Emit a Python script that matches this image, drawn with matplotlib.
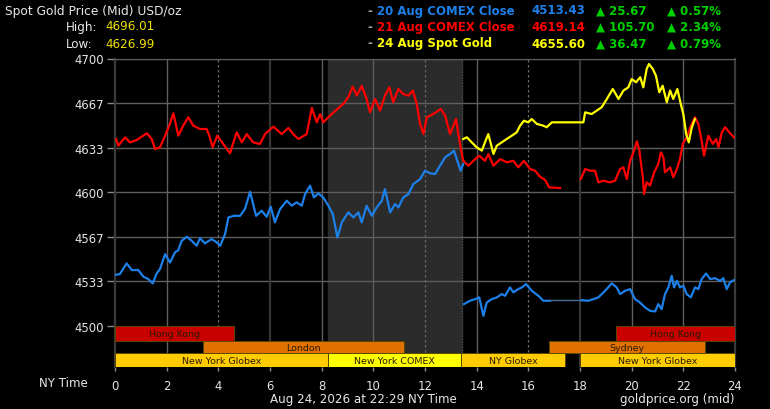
import numpy as np
import matplotlib
matplotlib.use("Agg")
import matplotlib.pyplot as plt
from matplotlib.patches import Rectangle

plt.rcParams['font.family'] = ['DejaVu Sans']

# ---- data (hours NY time, price USD/oz) ----
red_h1 = [0.04, 0.13, 0.39, 0.58, 0.84, 1.23, 1.42, 1.55, 1.74, 1.94, 2.10, 2.26, 2.45, 2.64, 2.84,
          3.03, 3.29, 3.55, 3.65, 3.78, 3.96, 4.19, 4.45, 4.71, 4.91, 5.10, 5.35, 5.61, 5.81, 6.13,
          6.45, 6.71, 6.90, 7.10, 7.42, 7.62, 7.81, 7.94, 8.06, 8.32, 8.68, 8.84, 9.03, 9.20, 9.36,
          9.55, 9.74, 9.87, 10.07, 10.26, 10.45, 10.62, 10.77, 10.97, 11.16, 11.36, 11.53, 11.68,
          11.81, 11.94, 12.07, 12.32, 12.61, 12.78, 12.97, 13.10, 13.20, 13.29, 13.38, 13.48, 13.68,
          13.87, 14.10, 14.32, 14.45, 14.65, 14.91, 15.16, 15.42, 15.61, 15.83, 16.07, 16.26, 16.45,
          16.65, 16.81, 17.23]
red_p1 = [4639.7, 4634.7, 4641.0, 4637.2, 4639.0, 4644.0, 4639.7, 4632.2, 4633.5, 4642.2, 4649.7,
          4659.0, 4642.2, 4649.7, 4656.0, 4649.7, 4647.2, 4647.2, 4642.2, 4633.5, 4642.2, 4636.0,
          4629.0, 4644.7, 4637.2, 4643.4, 4637.2, 4636.0, 4643.4, 4649.0, 4643.4, 4648.0, 4643.4,
          4639.7, 4643.4, 4663.0, 4652.2, 4658.4, 4652.2, 4657.2, 4663.4, 4666.0, 4671.0, 4678.9,
          4672.2, 4679.6, 4669.7, 4659.7, 4669.7, 4661.0, 4672.2, 4678.4, 4667.2, 4677.2, 4673.4,
          4672.2, 4676.0, 4666.0, 4651.0, 4643.4, 4656.0, 4658.4, 4662.2, 4657.2, 4643.4, 4649.7,
          4654.7, 4643.4, 4633.5, 4623.4, 4619.7, 4623.4, 4627.2, 4623.4, 4628.5, 4619.7, 4624.7,
          4622.3, 4623.4, 4618.5, 4623.4, 4617.2, 4616.0, 4611.5, 4609.0, 4603.5, 4603.0]
red_h2 = [18.03, 18.20, 18.39, 18.58, 18.71, 18.90, 19.16, 19.36, 19.55, 19.68, 19.81, 19.94, 20.07,
          20.20, 20.30, 20.43, 20.48, 20.58, 20.71, 20.87, 21.03, 21.13, 21.23, 21.29, 21.49, 21.61,
          21.75, 21.87, 21.98, 22.13, 22.29, 22.45, 22.58, 22.71, 22.80, 22.97, 23.14, 23.27, 23.36,
          23.49, 23.62, 23.78, 23.96]
red_p2 = [4609.7, 4617.2, 4616.0, 4616.0, 4607.3, 4608.5, 4607.3, 4608.5, 4617.2, 4618.5, 4609.7,
          4623.4, 4629.7, 4638.0, 4631.0, 4611.0, 4598.5, 4607.3, 4604.8, 4614.8, 4621.0, 4629.7,
          4626.0, 4614.8, 4618.5, 4611.0, 4617.2, 4624.7, 4636.0, 4641.0, 4649.7, 4656.0, 4651.0,
          4638.4, 4627.2, 4642.2, 4636.0, 4639.7, 4633.5, 4644.7, 4648.5, 4644.7, 4641.0]

blue_h1 = [0.04, 0.19, 0.45, 0.65, 0.90, 1.10, 1.29, 1.46, 1.61, 1.74, 1.94, 2.13, 2.32, 2.45, 2.58,
           2.78, 2.97, 3.16, 3.29, 3.48, 3.74, 3.94, 4.07, 4.26, 4.39, 4.61, 4.84, 5.03, 5.23, 5.46,
           5.68, 5.87, 6.03, 6.19, 6.39, 6.65, 6.84, 7.03, 7.23, 7.36, 7.55, 7.70, 7.87, 8.06, 8.26,
           8.43, 8.61, 8.78, 9.03, 9.23, 9.42, 9.55, 9.74, 9.94, 10.13, 10.33, 10.45, 10.65, 10.84,
           10.97, 11.16, 11.36, 11.55, 11.81, 12.00, 12.20, 12.39, 12.58, 12.78, 12.97, 13.12, 13.25,
           13.38, 13.48]
blue_p1 = [4538.1, 4538.6, 4546.6, 4541.6, 4541.6, 4536.6, 4534.8, 4531.6, 4539.0, 4542.3, 4553.5,
           4547.2, 4554.8, 4556.5, 4563.5, 4566.5, 4563.5, 4559.8, 4565.5, 4561.6, 4564.8, 4562.3,
           4559.8, 4568.5, 4581.0, 4582.2, 4582.2, 4587.3, 4600.2, 4582.2, 4586.0, 4581.5, 4589.0,
           4577.3, 4587.3, 4593.5, 4589.8, 4592.3, 4589.8, 4598.5, 4604.8, 4596.0, 4599.0, 4596.0,
           4589.8, 4583.5, 4566.0, 4577.3, 4584.8, 4581.0, 4584.8, 4577.3, 4589.8, 4582.2, 4588.5,
           4593.5, 4602.2, 4584.8, 4591.0, 4588.5, 4596.0, 4598.5, 4606.0, 4609.7, 4616.0, 4614.0,
           4613.5, 4619.7, 4626.0, 4628.5, 4631.0, 4623.4, 4616.0, 4621.0]
blue_h2 = [13.51, 13.74, 13.94, 14.10, 14.26, 14.39, 14.58, 14.78, 14.97, 15.10, 15.29, 15.42, 15.61,
           15.75, 15.91, 16.13, 16.39, 16.58, 16.84]
blue_p2 = [4516.1, 4518.6, 4519.8, 4521.1, 4507.3, 4517.3, 4519.8, 4521.1, 4523.6, 4522.3, 4528.6,
           4524.9, 4527.3, 4528.6, 4531.1, 4526.1, 4522.3, 4518.6, 4518.6]
blue_flat_h = [16.84, 18.07]
blue_flat_p = [4518.8, 4518.8]
blue_h3 = [18.07, 18.32, 18.52, 18.71, 18.84, 19.03, 19.23, 19.42, 19.55, 19.75, 19.94, 20.13, 20.32,
           20.52, 20.71, 20.91, 21.03, 21.16, 21.29, 21.42, 21.55, 21.64, 21.75, 21.87, 22.00, 22.13,
           22.29, 22.45, 22.58, 22.71, 22.88, 23.04, 23.23, 23.42, 23.55, 23.68, 23.81, 23.96]
blue_p3 = [4519.0, 4518.6, 4519.8, 4521.1, 4523.6, 4527.3, 4531.6, 4528.6, 4523.6, 4526.1, 4527.3,
           4519.8, 4517.3, 4513.6, 4511.1, 4510.6, 4516.1, 4512.3, 4523.6, 4528.6, 4537.3, 4528.6,
           4533.5, 4528.6, 4529.8, 4523.6, 4521.1, 4528.6, 4527.3, 4534.8, 4539.0, 4534.8, 4535.5,
           4533.5, 4535.5, 4527.3, 4532.4, 4534.1]

yellow_h = [13.48, 13.62, 13.81, 14.00, 14.20, 14.32, 14.45, 14.55, 14.65, 14.78, 14.97, 15.16, 15.36,
            15.55, 15.68, 15.83, 16.00, 16.13, 16.33, 16.58, 16.71, 16.91, 18.13, 18.20, 18.45, 18.65,
            18.84, 19.04, 19.27, 19.49, 19.68, 19.87, 20.00, 20.17, 20.33, 20.45, 20.58, 20.67, 20.82,
            20.94, 21.07, 21.20, 21.36, 21.49, 21.61, 21.77, 21.90, 22.00, 22.11, 22.21, 22.33, 22.45]
yellow_p = [4639.7, 4641.0, 4637.2, 4633.5, 4631.0, 4637.2, 4643.4, 4636.0, 4628.5, 4634.7, 4637.2,
            4639.7, 4642.2, 4644.7, 4649.7, 4653.4, 4652.2, 4654.7, 4651.0, 4649.7, 4648.5, 4652.2,
            4652.2, 4659.7, 4658.4, 4661.0, 4663.5, 4669.7, 4677.2, 4669.7, 4676.0, 4678.4, 4684.6,
            4682.2, 4686.0, 4678.4, 4692.1, 4695.9, 4692.1, 4687.1, 4674.7, 4679.6, 4667.2, 4676.0,
            4669.7, 4677.2, 4666.0, 4658.4, 4643.4, 4637.2, 4648.5, 4654.7]

# header values
legend_names = ['20 Aug COMEX Close', '21 Aug COMEX Close', '24 Aug Spot Gold']
legend_prices = ['4513.43', '4619.14', '4655.60']
legend_chg = ['25.67', '105.70', '36.47']
legend_pct = ['0.57%', '2.34%', '0.79%']
high_val = '4696.01'
low_val = '4626.99'

# trading sessions: (label, start, end, row)
sessions = [('Hong Kong', 0, 4.6, 0), ('Hong Kong', 19.4, 24, 0),
            ('London', 3.39, 11.18, 1), ('Sydney', 16.8, 22.85, 1),
            ('New York Globex', 0, 8.26, 2), ('New York COMEX', 8.26, 13.4, 2),
            ('NY Globex', 13.4, 17.43, 2), ('New York Globex', 18, 24, 2)]
comex_span = (8.25, 13.42)

yticks = [4500, 4533.33, 4566.67, 4600, 4633.33, 4666.67, 4700]
ylabels = ['4500', '4533', '4567', '4600', '4633', '4667', '4700']

BLUE = '#1c80e8'
RED = '#ff0000'
YEL = '#ffff00'
GREEN = '#00d000'

fig = plt.figure(figsize=(7.7, 4.1), dpi=100, facecolor='black')
ax = fig.add_axes([115 / 770, 1 - 368 / 410, 620 / 770, 308.5 / 410])
ax.set_facecolor('black')
ax.set_xlim(0, 24)
ax.set_ylim(4469, 4700)

# comex shading
ax.axvspan(comex_span[0], comex_span[1], color='#2b2b2b', zorder=0)

# grid
for y in yticks[1:]:
    ax.axhline(y, color='#5e5e5e', lw=1, zorder=1)
for h in range(2, 24, 2):
    if h in (6, 18):
        ax.axvline(h, color='#363636', lw=1.6, zorder=1)
    elif h in (4, 12, 16):
        ax.axvline(h, color='#6a6a6a', lw=0.9, ls=(0, (2, 2)), zorder=1)
    else:
        ax.axvline(h, color='#5e5e5e', lw=1, zorder=1)
ax.axvline(comex_span[1], color='#555555', lw=0.8, ls=(0, (1, 1.5)), zorder=1)

# price lines
lw = 1.6
ax.plot(red_h1, red_p1, color=RED, lw=lw, zorder=3)
ax.plot(red_h2, red_p2, color=RED, lw=lw, zorder=3)
ax.plot(blue_h1, blue_p1, color=BLUE, lw=lw, zorder=3)
ax.plot(blue_h2, blue_p2, color=BLUE, lw=lw, zorder=3)
ax.plot(blue_flat_h, blue_flat_p, color='#4a6f92', lw=1.0, zorder=3)
ax.plot(blue_h3, blue_p3, color=BLUE, lw=lw, zorder=3)
ax.plot(yellow_h, yellow_p, color=YEL, lw=lw, zorder=4)

# session bars
row_y = [(4488.7, 4500), (4479.8, 4488.7), (4469, 4479.8)]
for label, s, e, row in sessions:
    if label == 'Hong Kong':
        fc = '#c80000'
    elif label in ('London', 'Sydney'):
        fc = '#e07000'
    elif label == 'New York COMEX':
        fc = '#ffff00'
    else:
        fc = '#ffcc00'
    y0, y1 = row_y[row]
    ax.add_patch(Rectangle((s, y0), e - s, y1 - y0, facecolor=fc, edgecolor='#5a4800',
                           lw=0.7, zorder=5))
    ax.text((s + e) / 2, (y0 + y1) / 2 - 0.3, label, ha='center', va='center',
            fontsize=6.8, color='#2a1a00', zorder=6)

# spines / ticks
for side in ('left', 'right'):
    ax.spines[side].set_color('#3a3a3a')
    ax.spines[side].set_linewidth(1.6)
ax.spines['top'].set_color('#5e5e5e')
ax.spines['bottom'].set_visible(False)
ax.set_yticks(yticks)
ax.set_yticklabels(ylabels)
ax.set_xticks(range(0, 25, 2))
ax.tick_params(axis='y', colors='#8a8a8a', labelcolor='#e6e6e6', length=6, width=1,
               labelsize=8.4, pad=2)
ax.tick_params(axis='x', colors='#8a8a8a', labelcolor='#e6e6e6', length=3, width=1,
               labelsize=8.4, pad=6)

def px(x, y):
    return x / 770, 1 - y / 410

# header text
fig.text(*px(5, 11), 'Spot Gold Price (Mid) USD/oz', color='#e6e6e6', fontsize=8.8, va='center')
fig.text(*px(66, 27), 'High:', color='#e6e6e6', fontsize=8.6, va='center')
fig.text(*px(105, 27), high_val, color='#f0e000', fontsize=8.6, va='center')
fig.text(*px(66, 44), 'Low:', color='#e6e6e6', fontsize=8.6, va='center')
fig.text(*px(105, 44), low_val, color='#f0e000', fontsize=8.6, va='center')

colors = [BLUE, RED, YEL]
for i in range(3):
    yy = 11 + i * 16.5
    fig.text(*px(367, yy), '-', color='#aaaaaa', fontsize=8.5, va='center', fontweight='bold')
    fig.text(*px(377, yy), legend_names[i], color=colors[i], fontsize=8.5, va='center',
             fontweight='bold')
    fig.text(*px(531, yy), legend_prices[i], color=colors[i], fontsize=8.5, va='center',
             fontweight='bold')
    fig.text(*px(596, yy), '\u25b2 ' + legend_chg[i], color=GREEN, fontsize=8.5, va='center',
             fontweight='bold')
    fig.text(*px(667, yy), '\u25b2 ' + legend_pct[i], color=GREEN, fontsize=8.5, va='center',
             fontweight='bold')

# footer
fig.text(*px(88, 384), 'NY Time', color='#e6e6e6', fontsize=8.6, va='center', ha='right')
fig.text(*px(363, 400), 'Aug 24, 2026 at 22:29 NY Time', color='#e6e6e6', fontsize=8.6,
         va='center', ha='center')
fig.text(*px(734, 400), 'goldprice.org (mid)', color='#e6e6e6', fontsize=8.6, va='center',
         ha='right')

fig.savefig('out.png', dpi=100, facecolor='black')
